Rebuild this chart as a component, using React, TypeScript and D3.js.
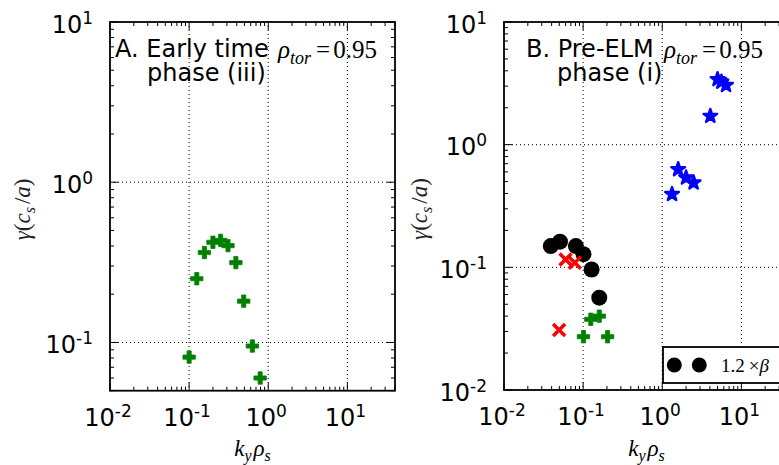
import React from 'react';
import * as d3 from 'd3';

// panel A: early time, phase (iii)
const aKy = [0.1, 0.125, 0.156, 0.2, 0.25, 0.31, 0.39, 0.49, 0.63, 0.79];
const aGamma = [0.081, 0.25, 0.364, 0.422, 0.434, 0.402, 0.315, 0.181, 0.095, 0.06];

// panel B: pre-ELM, phase (i)
const bCircleKy = [0.039, 0.051, 0.081, 0.101, 0.128, 0.16];
const bCircleGamma = [0.149, 0.162, 0.149, 0.128, 0.096, 0.0566];
const bCrossKy = [0.0497, 0.06, 0.0785];
const bCrossGamma = [0.0308, 0.116, 0.109];
const bPlusKy = [0.101, 0.125, 0.16, 0.204];
const bPlusGamma = [0.0272, 0.0377, 0.04, 0.0272];
const bStarKy = [1.33, 1.59, 2.0, 2.49, 4.05, 5.0, 5.6, 6.4];
const bStarGamma = [0.394, 0.629, 0.538, 0.49, 1.71, 3.41, 3.25, 3.05];

const xTickExp = [-2, -1, 0, 1];
const aYTickExp = [-1, 0, 1];
const bYTickExp = [-2, -1, 0, 1];

const SANS = 'DejaVu Sans, sans-serif';
const SERIF = 'Liberation Serif, DejaVu Serif, serif';

const zip = (xs: number[], ys: number[]) => xs.map((x, i) => [x, ys[i]]);

const plusPath = d3.symbol(d3.symbolCross, 85)()!;
const starPath = d3.symbol(d3.symbolStar, 58)()!;

function minorTicks(domain: number[]) {
  const out: number[] = [];
  for (let e = -3; e <= 2; e++) {
    for (let k = 1; k < 10; k++) {
      const v = k * Math.pow(10, e);
      if (v >= domain[0] * 0.999 && v <= domain[1] * 1.001) out.push(v);
    }
  }
  return out;
}

function Pow({ exp, ...rest }: any) {
  return (
    <text {...rest} fontFamily={SANS} fontSize={24} fill="#000">
      <tspan>10</tspan>
      <tspan dy={-9} fontSize={17}>{exp}</tspan>
    </text>
  );
}

function Panel(props: any) {
  const { left, right, yDomain, yRange, yTicks, children, title1, title2, t2dx } = props;
  const x = d3.scaleLog().domain([0.01, 40]).range([left, right]);
  const y = d3.scaleLog().domain(yDomain).range(yRange);
  const top = yRange[1], bottom = yRange[0];
  const xMinor = minorTicks(x.domain());
  const yMinor = minorTicks(y.domain());
  const xMajor = xTickExp.map(e => Math.pow(10, e));
  const yMajor = yTicks.map((e: number) => Math.pow(10, e));
  const isMajor = (v: number) => Math.abs(Math.log10(v) - Math.round(Math.log10(v))) < 1e-6;
  return (
    <g>
      {/* grid */}
      {xMajor.filter(v => x(v) > left + 1 && x(v) < right - 1).map(v => (
        <line key={'gx' + v} x1={x(v)} x2={x(v)} y1={top} y2={bottom} stroke="#000" strokeWidth={1} strokeDasharray="1,3" />
      ))}
      {yMajor.filter((v: number) => y(v) > top + 1 && y(v) < bottom - 1).map((v: number) => (
        <line key={'gy' + v} y1={y(v)} y2={y(v)} x1={left} x2={right} stroke="#000" strokeWidth={1} strokeDasharray="1,3" />
      ))}
      {children(x, y)}
      {/* ticks */}
      {xMinor.map(v => {
        const len = isMajor(v) ? 8 : 4;
        return (
          <g key={'tx' + v}>
            <line x1={x(v)} x2={x(v)} y1={bottom} y2={bottom - len} stroke="#000" strokeWidth={1} />
            <line x1={x(v)} x2={x(v)} y1={top} y2={top + len} stroke="#000" strokeWidth={1} />
          </g>
        );
      })}
      {yMinor.map(v => {
        const len = isMajor(v) ? 8 : 4;
        return (
          <g key={'ty' + v}>
            <line y1={y(v)} y2={y(v)} x1={left} x2={left + len} stroke="#000" strokeWidth={1} />
            <line y1={y(v)} y2={y(v)} x1={right} x2={right - len} stroke="#000" strokeWidth={1} />
          </g>
        );
      })}
      <rect x={left} y={top} width={right - left} height={bottom - top} fill="none" stroke="#000" strokeWidth={1.8} />
      {xTickExp.map(e => (
        <Pow key={'lx' + e} exp={e < 0 ? '-' + (-e) : String(e)} x={x(Math.pow(10, e)) - 2} y={bottom + 35} textAnchor="middle" />
      ))}
      {yTicks.map((e: number) => (
        <Pow key={'ly' + e} exp={e < 0 ? '-' + (-e) : String(e)} x={left - 17} y={y(Math.pow(10, e)) + 10.5} textAnchor="end" />
      ))}
      {/* titles */}
      <text x={left + props.t1dx} y={top + 35} fontFamily={SANS} fontSize={24} fill="#000">{title1}</text>
      <text x={left + t2dx} y={top + 59} fontFamily={SANS} fontSize={24} fill="#000">{title2}</text>
      <text x={props.rhoX} y={top + 36} fontFamily={SERIF} fontSize={25} fill="#000">
        <tspan fontStyle="italic">ρ</tspan>
        <tspan fontStyle="italic" fontSize={18} dy={6}>tor</tspan>
        <tspan dy={-6} dx={5}>=</tspan>
        <tspan dx={3}>0.95</tspan>
      </text>
      {/* axis labels */}
      <text x={(left + right) / 2} y={456} textAnchor="middle" fontFamily={SERIF} fontSize={23} fill="#000">
        <tspan fontStyle="italic">k</tspan>
        <tspan fontStyle="italic" fontSize={16} dy={5}>y</tspan>
        <tspan fontStyle="italic" dy={-5} dx={2}>ρ</tspan>
        <tspan fontStyle="italic" fontSize={16} dy={5}>s</tspan>
      </text>
      <text transform={`translate(${props.yLabelX},${(top + bottom) / 2 + 3}) rotate(-90)`} textAnchor="middle" fontFamily={SERIF} fontSize={23} fill="#222">
        <tspan fontStyle="italic">γ</tspan>
        <tspan>(</tspan>
        <tspan fontStyle="italic">c</tspan>
        <tspan fontStyle="italic" fontSize={16} dy={5}>s</tspan>
        <tspan dy={-5} dx={3}>/</tspan>
        <tspan fontStyle="italic">a</tspan>
        <tspan>)</tspan>
      </text>
    </g>
  );
}

const Plus = ({ cx, cy }: any) => (
  <path d={plusPath} transform={`translate(${cx},${cy})`} fill="#008000" stroke="#008000" strokeWidth={0.8} />
);
const Cross = ({ cx, cy }: any) => (
  <path d={`M${cx - 6},${cy - 6}L${cx + 6},${cy + 6}M${cx - 6},${cy + 6}L${cx + 6},${cy - 6}`} stroke="#ff0000" strokeWidth={3.5} />
);
const Star = ({ cx, cy }: any) => (
  <path d={starPath} transform={`translate(${cx},${cy})`} fill="#0000ff" stroke="#0000ff" strokeWidth={2.4} strokeLinejoin="round" />
);

export default function App() {
  return (
    <svg width={779} height={465} style={{ position: 'absolute', left: 0, top: 0, background: '#fff' }}>
      <Panel
        left={110} right={395} yDomain={[0.05, 10]} yRange={[390.7, 22]} yTicks={aYTickExp}
        title1="A. Early time" title2="phase (iii)" t1dx={5} t2dx={37} rhoX={278} yLabelX={30}
      >
        {(x: any, y: any) => zip(aKy, aGamma).map(([k, g], i) => <Plus key={i} cx={x(k)} cy={y(g)} />)}
      </Panel>
      <Panel
        left={504} right={789} yDomain={[0.01, 10]} yRange={[390, 22]} yTicks={bYTickExp}
        title1="B. Pre-ELM" title2="phase (i)" t1dx={22} t2dx={53} rhoX={664} yLabelX={427}
      >
        {(x: any, y: any) => (
          <g>
            {zip(bStarKy, bStarGamma).map(([k, g], i) => <Star key={'s' + i} cx={x(k)} cy={y(g)} />)}
            {zip(bCircleKy, bCircleGamma).map(([k, g], i) => <circle key={'c' + i} cx={x(k)} cy={y(g)} r={8} fill="#000" />)}
            {zip(bCrossKy, bCrossGamma).map(([k, g], i) => <Cross key={'x' + i} cx={x(k)} cy={y(g)} />)}
            {zip(bPlusKy, bPlusGamma).map(([k, g], i) => <Plus key={'p' + i} cx={x(k)} cy={y(g)} />)}
            <rect x={663} y={347} width={120} height={36} fill="#fff" stroke="#000" strokeWidth={1.8} />
            <circle cx={674.3} cy={365} r={7.5} fill="#000" />
            <circle cx={699.3} cy={365} r={7.5} fill="#000" />
            <text x={721} y={372} fontFamily={SERIF} fontSize={19} fill="#000">
              <tspan>1.2</tspan>
              <tspan dx={4}>×</tspan>
              <tspan fontStyle="italic">β</tspan>
            </text>
          </g>
        )}
      </Panel>
    </svg>
  );
}
